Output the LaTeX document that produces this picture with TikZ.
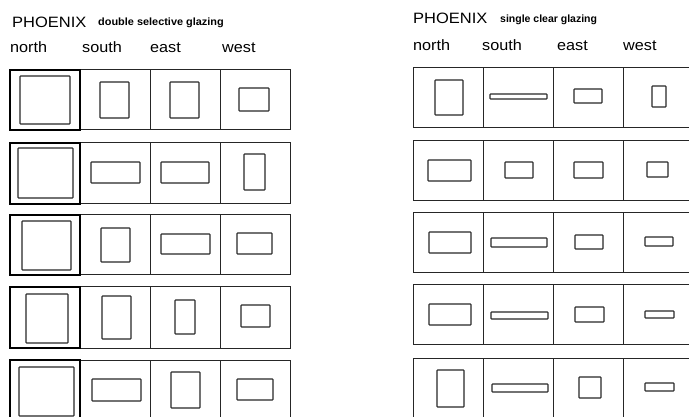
\documentclass[tikz,border=0pt]{standalone}
\usepackage{fontspec}
\setmainfont{Liberation Sans}
\begin{document}
\begin{tikzpicture}[x=1pt,y=-1pt,
  cell/.style={draw=black!85,line width=1pt},
  ncell/.style={draw=black,line width=1.3pt},
  win/.style={draw=black!85,line width=1.1pt,rounded corners=0.6pt},
  lbl/.style={anchor=base west,inner sep=0pt,font=\fontsize{15}{15}\selectfont},
  sub/.style={anchor=base west,inner sep=0pt,font=\fontsize{10.5}{11}\selectfont\bfseries}]
\useasboundingbox (0,0) rectangle (689,417);
\clip (0,0) rectangle (689,417);
% titles
\node[lbl] (tA) at (12,28) {\scalebox{1.1}[1]{PHOENIX}};
\node[sub] (sA) at (98,26) {\scalebox{1.04}[1]{double selective glazing}};
\node[lbl] (tB) at (413,24) {\scalebox{1.1}[1]{PHOENIX}};
\node[sub] (sB) at (500,23) {single clear glazing};
% headers
\node[lbl] (nA) at (10,53) {\scalebox{1.08}[1]{north}};
\node[lbl] (soA) at (82,53) {\scalebox{1.08}[1]{south}};
\node[lbl] (eA) at (150,53) {\scalebox{1.08}[1]{east}};
\node[lbl] (wA) at (222,53) {\scalebox{1.08}[1]{west}};
\node[lbl] (nB) at (413,51) {\scalebox{1.08}[1]{north}};
\node[lbl] (soB) at (482,51) {\scalebox{1.08}[1]{south}};
\node[lbl] (eB) at (557,51) {\scalebox{1.08}[1]{east}};
\node[lbl] (wB) at (623,51) {\scalebox{1.08}[1]{west}};
% left panel cells
\foreach \t/\b in {70/130,143/204,215/275,287/348,360/421}{
  \draw[cell] (80,\t) rectangle (150,\b);
  \draw[cell] (150,\t) rectangle (220,\b);
  \draw[cell] (220,\t) rectangle (290,\b);
  \draw[ncell] (10,\t) rectangle (80,\b);
}
% right panel cells
\foreach \t/\b in {68/128,141/201,213/273,285/344,358/418}{
  \draw[cell] (413,\t) rectangle (483,\b);
  \draw[cell] (483,\t) rectangle (553,\b);
  \draw[cell] (553,\t) rectangle (623,\b);
  \draw[cell] (623,\t) rectangle (693,\b);
}
% left panel windows
\foreach \a/\b/\c/\d in {
  20/76/70/124, 100/82/129/118, 170/82/199/118, 239/88/269/111,
  18/148/73/198, 91/162/140/183, 161/162/209/183, 244/154/265/190,
  22/221/71/270, 101/228/130/262, 161/234/210/254, 237/233/272/254,
  26/294/68/343, 102/296/131/339, 175/300/195/334, 241/305/270/327,
  19/367/74/416, 92/379/141/401, 171/372/200/408, 237/379/273/400}{
  \draw[win] (\a,\b) rectangle (\c,\d);
}
% right panel windows
\foreach \a/\b/\c/\d in {
  435/80/463/115, 490/94/547/99, 574/89/602/103, 652/86/666/107,
  428/160/471/181, 505/162/533/178, 574/162/603/178, 647/162/668/177,
  429/232/471/253, 491/238/547/247, 575/235/603/249, 645/237/673/246,
  429/304/471/325, 491/312/548/319, 575/307/604/322, 645/311/674/318,
  437/370/464/407, 492/384/548/392, 579/377/601/398, 645/383/674/391}{
  \draw[win] (\a,\b) rectangle (\c,\d);
}
\end{tikzpicture}
\end{document}
